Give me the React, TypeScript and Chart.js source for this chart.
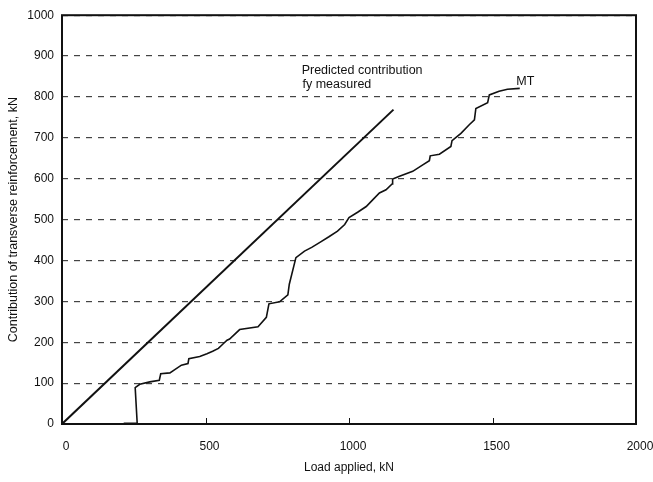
import React, { useEffect, useRef } from "react";
import { Chart, registerables } from "chart.js";

Chart.register(...registerables);

// Predicted contribution (fy measured)
const predLoad = [0, 1155];
const predForce = [0, 769];

// Measured contribution MT
const mtLoad = [215, 262, 255, 271, 306, 339, 344, 376, 393, 416, 439, 442, 480, 505, 525, 545, 560, 575, 584, 619, 683, 712, 721, 758, 787, 792, 815, 845, 870, 900, 930, 960, 985, 1000, 1030, 1060, 1085, 1106, 1129, 1150, 1152, 1176, 1222, 1257, 1280, 1283, 1315, 1355, 1359, 1390, 1419, 1437, 1442, 1483, 1489, 1523, 1552, 1595];
const mtForce = [2, 2, 89, 97, 103, 107, 123, 125, 133, 144, 148, 160, 165, 172, 178, 185, 195, 205, 208, 231, 238, 261, 294, 299, 316, 342, 407, 423, 432, 445, 458, 472, 488, 505, 518, 532, 550, 565, 573, 587, 599, 606, 618, 634, 644, 656, 660, 679, 693, 711, 732, 744, 772, 786, 805, 814, 819, 821];

const xTicks = [0, 500, 1000, 1500, 2000];
const yTicks = [0, 100, 200, 300, 400, 500, 600, 700, 800, 900, 1000];

const notes = [
  { text: "Predicted contribution", x: 835, y: 864 },
  { text: "fy measured", x: 838, y: 830 },
  { text: "MT", x: 1583, y: 837 },
];

const FONT = "'Liberation Sans', Arial, sans-serif";

const framePlugin = {
  id: "frame",
  afterDraw(chart: any) {
    const { ctx, chartArea } = chart;
    const xs = chart.scales.x;
    const ys = chart.scales.y;
    ctx.save();
    ctx.strokeStyle = "#111";
    ctx.lineWidth = 2;
    ctx.setLineDash([]);
    ctx.strokeRect(chartArea.left, chartArea.top, chartArea.right - chartArea.left, chartArea.bottom - chartArea.top);
    ctx.lineWidth = 1;
    xTicks.slice(1, -1).forEach((v) => {
      const px = Math.round(xs.getPixelForValue(v)) + 0.5;
      ctx.beginPath();
      ctx.moveTo(px, chartArea.bottom);
      ctx.lineTo(px, chartArea.bottom - 6);
      ctx.stroke();
    });
    ctx.fillStyle = "#111";
    ctx.font = `12.5px ${FONT}`;
    ctx.textAlign = "left";
    ctx.textBaseline = "middle";
    notes.forEach((n) => {
      ctx.fillText(n.text, xs.getPixelForValue(n.x), ys.getPixelForValue(n.y));
    });
    ctx.restore();
  },
};

export default function App() {
  const ref = useRef<HTMLCanvasElement>(null);
  useEffect(() => {
    if (!ref.current) return;
    const chart = new Chart(ref.current, {
      type: "scatter",
      data: {
        datasets: [
          {
            data: predLoad.map((x, i) => ({ x, y: predForce[i] })),
            showLine: true,
            borderColor: "#111",
            borderWidth: 2,
            pointRadius: 0,
          },
          {
            data: mtLoad.map((x, i) => ({ x, y: mtForce[i] })),
            showLine: true,
            borderColor: "#111",
            borderWidth: 1.6,
            pointRadius: 0,
          },
        ],
      },
      options: {
        animation: false,
        responsive: false,
        layout: { padding: { left: 0, top: 13, right: 17, bottom: 0 } },
        plugins: { legend: { display: false }, tooltip: { enabled: false } },
        scales: {
          x: {
            type: "linear",
            min: 0,
            max: 2000,
            afterBuildTicks: (s: any) => {
              s.ticks = xTicks.map((v) => ({ value: v }));
            },
            afterFit: (s: any) => {
              s.height = 58;
              s.paddingLeft = 0;
              s.paddingRight = 0;
            },
            grid: { display: false, drawTicks: false },
            border: { display: false },
            ticks: {
              padding: 15,
              labelOffset: 4,
              color: "#111",
              font: { family: FONT, size: 12 },
              maxRotation: 0,
              callback: (v: any) => String(v),
            },
            title: { display: true, text: "Load applied, kN", color: "#111", font: { family: FONT, size: 12 }, padding: { top: 0, bottom: 7 } },
          },
          y: {
            type: "linear",
            min: 0,
            max: 1000,
            afterBuildTicks: (s: any) => {
              s.ticks = yTicks.map((v) => ({ value: v }));
            },
            afterFit: (s: any) => {
              s.width = 62;
            },
            grid: { color: "#444", lineWidth: 1.2, drawTicks: false },
            border: { display: false, dash: [6, 6] },
            ticks: { padding: 8, color: "#111", font: { family: FONT, size: 12 }, callback: (v: any) => String(v) },
            title: { display: true, text: "Contribution of transverse reinforcement, kN", color: "#111", font: { family: FONT, size: 12.5 }, padding: { top: 6, bottom: 0 } },
          },
        },
      },
      plugins: [framePlugin],
    });
    return () => chart.destroy();
  }, []);
  return (
    <div style={{ position: "absolute", left: 0, top: 0, width: 653, height: 482, background: "#fff" }}>
      <canvas ref={ref} width={653} height={482} />
    </div>
  );
}
